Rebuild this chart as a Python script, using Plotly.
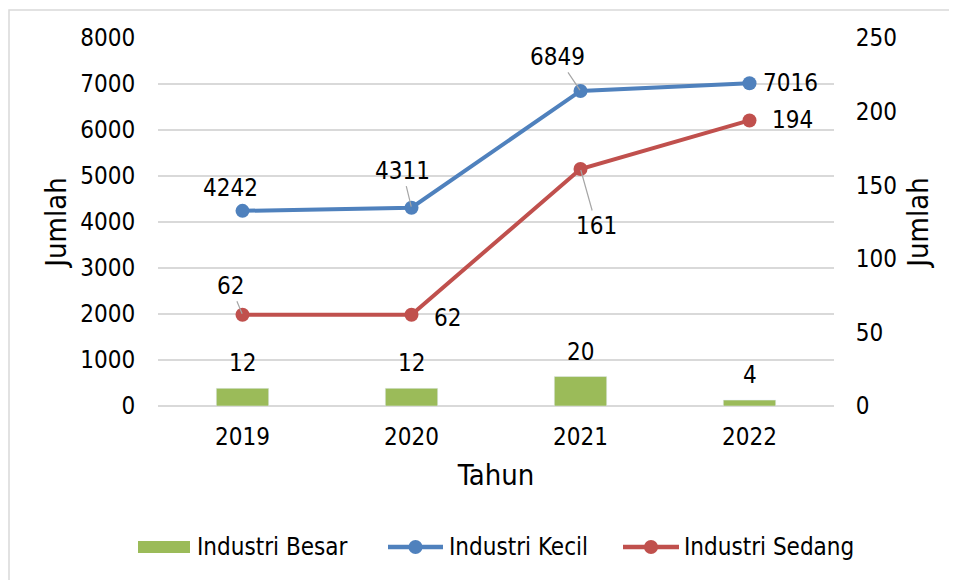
import plotly.graph_objects as go

years = ["2019", "2020", "2021", "2022"]
besar = [12, 12, 20, 4]
kecil = [4242, 4311, 6849, 7016]
sedang = [62, 62, 161, 194]
left_ticks = [0, 1000, 2000, 3000, 4000, 5000, 6000, 7000, 8000]
right_ticks = [0, 50, 100, 150, 200, 250]
series_names = ["Industri Besar", "Industri Kecil", "Industri Sedang"]

FONT = "DejaVu Sans Condensed, DejaVu Sans, sans-serif"
FS = 24
GREEN = "#9BBB59"
BLUE = "#4F81BD"
RED = "#C0504D"
GRID = "#D9D9D9"

OFF = 8  # page body margin
W, H = 957 - OFF, 580 - OFF
ML, MT = 158 - OFF, 38 - OFF
MR = W - (834 - OFF)
MB = H - (406 - OFF)
PW, PH = W - ML - MR, H - MT - MB


def px(x):
    return (x - OFF - ML) / PW


def py(y):
    return (MT + PH - (y - OFF)) / PH


fig = go.Figure()
fig.add_trace(go.Bar(x=years, y=besar, name=series_names[0], marker_color=GREEN,
                     width=0.31, yaxis="y2", showlegend=False))
fig.add_trace(go.Scatter(x=years, y=kecil, name=series_names[1], mode="lines+markers",
                         line=dict(color=BLUE, width=4), marker=dict(size=14, color=BLUE),
                         showlegend=False))
fig.add_trace(go.Scatter(x=years, y=sedang, name=series_names[2], mode="lines+markers",
                         line=dict(color=RED, width=4), marker=dict(size=14, color=RED),
                         yaxis="y2", showlegend=False))

ann = []
kecil_off = [(-12, -23, False), (-9, -37, True), (-23, -34, True), (41, 0, False)]
sedang_off = [(-12, -29, True), (36, 3, False), (16, 57, True), (43, 0, False)]


def label(i, val, yref, off):
    dx, dy, arrow = off
    if arrow:
        return dict(x=i, y=val, xref="x", yref=yref, text=str(val), showarrow=True,
                    arrowhead=0, arrowwidth=1.2, arrowcolor="#A6A6A6", ax=dx, ay=dy,
                    standoff=1)
    return dict(x=i, y=val, xref="x", yref=yref, text=str(val), showarrow=False,
                xshift=dx, yshift=-dy)


for i in range(len(years)):
    ann.append(label(i, kecil[i], "y", kecil_off[i]))
    ann.append(label(i, sedang[i], "y2", sedang_off[i]))
    ann.append(dict(x=i, y=besar[i], xref="x", yref="y2", text=str(besar[i]),
                    showarrow=False, yshift=25))

# manual legend (Excel style)
shapes = []
leg_y = 547
shapes.append(dict(type="rect", xref="paper", yref="paper", x0=px(138), x1=px(190),
                   y0=py(553), y1=py(541), fillcolor=GREEN, line=dict(width=0)))
ann.append(dict(x=px(195), y=py(leg_y), xref="paper", yref="paper", text=series_names[0],
                showarrow=False, xanchor="left", yanchor="middle"))
for (x0, x1, xt, col, nm) in [(388, 443, 447, BLUE, series_names[1]),
                              (623, 679, 682, RED, series_names[2])]:
    shapes.append(dict(type="line", xref="paper", yref="paper", x0=px(x0), x1=px(x1),
                       y0=py(leg_y), y1=py(leg_y), line=dict(color=col, width=4.5)))
    cx = (x0 + x1) / 2
    shapes.append(dict(type="circle", xref="paper", yref="paper", x0=px(cx - 7),
                       x1=px(cx + 7), y0=py(leg_y + 7), y1=py(leg_y - 7),
                       fillcolor=col, line=dict(width=0)))
    ann.append(dict(x=px(xt), y=py(leg_y), xref="paper", yref="paper", text=nm,
                    showarrow=False, xanchor="left", yanchor="middle"))

for a in ann:
    a["font"] = dict(family=FONT, size=FS, color="#000000")

# chart border
shapes.append(dict(type="rect", xref="paper", yref="paper", x0=px(9), x1=px(950),
                   y0=py(600), y1=py(10), line=dict(color=GRID, width=1.5),
                   fillcolor="rgba(0,0,0,0)", layer="below"))

fig.update_layout(
    width=W, height=H,
    margin=dict(l=ML, r=MR, t=MT, b=MB),
    paper_bgcolor="white", plot_bgcolor="white",
    font=dict(family=FONT, size=FS, color="#000000"),
    showlegend=False,
    xaxis=dict(type="category", range=[-0.5, 3.5], showgrid=False, showline=False,
               zeroline=False, ticks="outside", ticklen=9, tickcolor="rgba(0,0,0,0)",
               title=dict(text="Tahun", standoff=14)),
    yaxis=dict(range=[0, 8000], tickvals=left_ticks, showgrid=True, gridcolor=GRID,
               gridwidth=1.5, zeroline=True, zerolinecolor=GRID, zerolinewidth=1.5,
               showline=False, ticks="outside", ticklen=17, tickcolor="rgba(0,0,0,0)",
               title=dict(text="Jumlah", standoff=5)),
    yaxis2=dict(range=[0, 250], tickvals=right_ticks, overlaying="y", side="right",
                showgrid=False, zeroline=False, showline=False, ticks="outside",
                ticklen=16, tickcolor="rgba(0,0,0,0)",
                title=dict(text="Jumlah", standoff=11)),
    annotations=ann,
    shapes=shapes,
)

fig.write_html("out.html")
